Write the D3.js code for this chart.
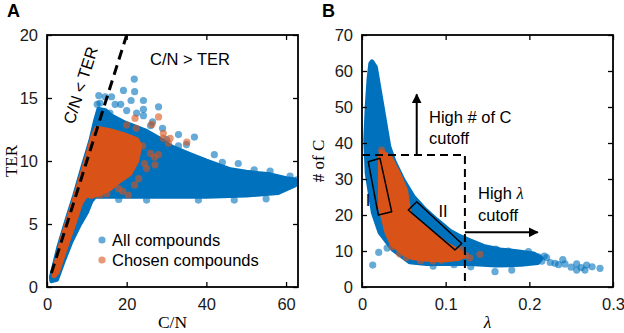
<!DOCTYPE html>
<html>
<head>
<meta charset="utf-8">
<script src="https://cdn.jsdelivr.net/npm/d3@7"></script>
<style>
  body { margin: 0; background: #fff; }
  svg { font-family: "Liberation Sans", Arial, sans-serif; }
</style>
</head>
<body>
<div id="chart"></div>
<script>
// ---- panel A data (C/N, TER) ----
const ticksAx = [0, 20, 40, 60];
const ticksAy = [0, 5, 10, 15, 20];
const allHullA = [[1.2,0.5],[2.4,0.6],[4,2],[6,3.6],[8.2,5],[10,6],[11,6.8],[12,7.2],[20,7.2],[30,7.2],[40,7.2],[50,7.3],[58,7.5],[62.2,8.1],[62.2,8.5],[60,8.6],[56,8.9],[50,9.1],[46,9.3],[40,10],[36,10.5],[31.3,11.1],[28,11.8],[24.6,12.4],[19.6,13],[16,13.6],[14.6,14],[13,14.1],[12.2,13.2],[11,11.6],[9,9.5],[7,7.3],[5,5.3],[3,3.2],[1.6,1.4],[1.1,0.8]];
const chosenHullA = [[1.8,0.9],[2.6,1.2],[4.5,3],[6.5,4.8],[8.5,6.7],[10,7.4],[11,7.2],[13,7.4],[15.8,7.8],[18,8.4],[20.8,9],[22.5,10],[23.3,11.2],[22.5,11.7],[19.2,12.1],[15.8,12.4],[12.5,12.6],[11.6,12],[10,10.2],[8,8.1],[6,6],[4,4],[2.6,2.2],[1.8,1.3]];
const allDotsA = [[21.9,16.5],[19.2,15.6],[22,15.5],[16.2,15.1],[14.6,15.1],[17.1,14.5],[21.1,14.8],[24.2,14.8],[24.2,14.1],[24.2,13.6],[28,14.3],[29,12.6],[33,12.1],[37,11.9],[20,14],[15.8,13.8],[13.3,14.6],[13,15.2],[12.6,14.5],[18.5,14.5],[26,12.8],[30,11.7],[35,11.3],[42,10.5],[48,9.8],[52,9.3],[56,9.2],[61,8.8],[62.7,8.5],[59,8.4],[47,6.9],[38,6.9],[25,6.9],[18,6.95],[55,7.0],[58,7.7],[33,11.2],[44,9.9],[22.5,13.8],[26.5,13.1]];
const chosenDotsA = [[22.1,13.4],[28,13.5],[26.3,12.9],[29.2,12.2],[29.2,11.8],[35.1,11.5],[30.9,11.8],[20,12.85],[22.4,12.6],[24,11.2],[26,10.6],[24.5,9.8],[23,8.6],[25,9.4],[13.3,7.3],[15,7.4],[18,7.8],[20.4,7.3],[14,8.3],[17,8.6],[27.1,9.7],[28,10.5],[30.5,11.4],[27,10.3],[19,7.6],[22,8.1]];

// ---- panel B data (lambda, # of C) ----
const ticksBx = [0, 0.1, 0.2, 0.3];
const ticksBy = [0, 10, 20, 30, 40, 50, 60, 70];
const allHullB = [[0.012,62.5],[0.016,61],[0.024,50],[0.032,39],[0.038,35],[0.049,29.7],[0.061,25.1],[0.075,21.5],[0.089,18.6],[0.105,15.5],[0.117,14],[0.129,12.8],[0.145,11.3],[0.165,10.3],[0.185,9.8],[0.205,9.2],[0.214,8],[0.21,6.8],[0.19,6.3],[0.16,6.1],[0.13,6.5],[0.1,6.6],[0.077,6.5],[0.057,7],[0.037,10.5],[0.0215,15.2],[0.0135,20.7],[0.0062,31.6],[0.0045,40.8],[0.0062,50],[0.0085,58],[0.0105,62]];
const chosenHullB = [[0.0235,37.5],[0.03,36.5],[0.0335,36],[0.044,31.2],[0.052,26.9],[0.0555,21.4],[0.058,19.6],[0.1,12],[0.112,10.4],[0.118,9.5],[0.121,8.6],[0.115,7.9],[0.1,7.6],[0.077,7.7],[0.06,8.2],[0.049,9.6],[0.036,12],[0.03,15],[0.022,22.3],[0.022,30],[0.022,36]];
const allDotsB = [[0.0128,6.1],[0.141,11.3],[0.16,10.5],[0.175,10],[0.199,9.8],[0.195,8.4],[0.2108,8.4],[0.2207,8.2],[0.2307,6.6],[0.2426,6.4],[0.2566,6.4],[0.2685,6.1],[0.2845,5.2],[0.2665,4.7],[0.2566,4.7],[0.159,4.25],[0.179,4.7],[0.13,5.6],[0.215,7.2],[0.225,6.8],[0.235,6.2],[0.275,5.6],[0.25,5.5],[0.02,9.6],[0.03,10.8],[0.11,6.2],[0.085,5.8],[0.218,8.6],[0.24,7.6],[0.262,5.4]];
const chosenDotsB = [[0.0235,38],[0.0235,23.2],[0.141,9.1],[0.129,8.1],[0.119,10.3],[0.053,8.2],[0.105,8.2],[0.085,7.2],[0.07,7.3],[0.045,9.2],[0.036,11.2],[0.095,7.4],[0.112,9.6],[0.124,8.8]];
const boxI = [[0.0075,34.8],[0.0215,35.75],[0.0355,20.9],[0.0195,20]];
const boxII = [[0.0553,21.4],[0.0654,23.7],[0.1192,12.1],[0.1111,10.3]];
const cutC = 36.7, cutLambda = 0.123;

const blue = '#0072BD', orange = '#D95319';
const W = 624, H = 333, R = 3.6;

const svg = d3.select('#chart').append('svg').attr('width', W).attr('height', H);

function panel(o) {
  const g = svg.append('g');
  const x = d3.scaleLinear().domain(o.xDomain).range([o.left, o.right]);
  const y = d3.scaleLinear().domain(o.yDomain).range([o.bottom, o.top]);
  const line = d3.line().x(d => x(d[0])).y(d => y(d[1])).curve(d3.curveLinearClosed);

  const clip = 'clip' + o.name;
  svg.append('clipPath').attr('id', clip).append('rect')
    .attr('x', o.left).attr('y', o.top).attr('width', o.right - o.left).attr('height', o.bottom - o.top);
  const plot = g.append('g').attr('clip-path', `url(#${clip})`);

  const cloud = (hull, dots, color) => {
    plot.append('path').attr('d', line(hull)).attr('fill', color)
      .attr('stroke', color).attr('stroke-width', 5).attr('stroke-linejoin', 'round');
    plot.selectAll(null).data(dots).enter().append('circle')
      .attr('cx', d => x(d[0])).attr('cy', d => y(d[1])).attr('r', R)
      .attr('fill', color).attr('fill-opacity', 0.6);
  };
  cloud(o.allHull, o.allDots, blue);
  cloud(o.chosenHull, o.chosenDots, orange);
  if (o.extra) o.extra(plot, x, y, line);

  // MATLAB style box with inward ticks
  const t = 5;
  g.append('g').attr('transform', `translate(0,${o.bottom})`)
    .call(d3.axisBottom(x).tickValues(o.xTicks).tickSize(-t).tickPadding(t + 6).tickFormat(o.xFmt || d3.format('')));
  g.append('g').attr('transform', `translate(0,${o.top})`)
    .call(d3.axisTop(x).tickValues(o.xTicks).tickSize(-t).tickFormat(''));
  g.append('g').attr('transform', `translate(${o.left},0)`)
    .call(d3.axisLeft(y).tickValues(o.yTicks).tickSize(-t).tickPadding(t + 4));
  g.append('g').attr('transform', `translate(${o.right},0)`)
    .call(d3.axisRight(y).tickValues(o.yTicks).tickSize(-t).tickFormat(''));
  g.selectAll('.domain').remove();
  g.selectAll('.tick line').attr('stroke', '#000').attr('stroke-width', 1.3);
  g.selectAll('.tick text').attr('font-size', 16.5).attr('font-family', '"Liberation Sans", Arial, sans-serif').attr('fill', '#1a1a1a');
  g.append('rect').attr('x', o.left).attr('y', o.top)
    .attr('width', o.right - o.left).attr('height', o.bottom - o.top)
    .attr('fill', 'none').attr('stroke', '#000').attr('stroke-width', 1.8);

  g.append('text').attr('x', o.left - 40).attr('y', 17).attr('font-weight', 'bold')
    .attr('font-size', 18).text(o.name);
  g.append('text').attr('x', (o.left + o.right) / 2).attr('y', 328)
    .attr('text-anchor', 'middle').attr('font-family', '"Liberation Serif", serif')
    .attr('font-style', o.xItalic ? 'italic' : 'normal')
    .attr('font-size', 17.5).text(o.xLabel);
  g.append('text').attr('transform', `translate(${o.yLabelX},${(o.top + o.bottom) / 2}) rotate(-90)`)
    .attr('text-anchor', 'middle').attr('font-family', '"Liberation Serif", serif')
    .attr('font-size', 17).text(o.yLabel);
  return { g, x, y };
}

// ---- panel A ----
const A = panel({
  name: 'A', left: 47, right: 298, top: 35, bottom: 287,
  xDomain: [0, 63], yDomain: [0, 20], xTicks: ticksAx, yTicks: ticksAy,
  allHull: allHullA, allDots: allDotsA, chosenHull: chosenHullA, chosenDots: chosenDotsA,
  xLabel: 'C/N', yLabel: 'TER', yLabelX: 17,
  extra: (plot, x, y) => {
    plot.append('line').attr('x1', x(1.1)).attr('y1', y(1.1)).attr('x2', x(20.5)).attr('y2', y(20.5))
      .attr('stroke', '#000').attr('stroke-width', 3).attr('stroke-dasharray', '10,6');
  }
});
A.g.append('text').attr('x', 190).attr('y', 65).attr('text-anchor', 'middle')
  .attr('font-size', 16.5).text('C/N > TER');
A.g.append('text').attr('transform', 'translate(86,87) rotate(-72.4)')
  .attr('text-anchor', 'middle').attr('font-size', 16.5).text('C/N < TER');
[['All compounds', blue, 240], ['Chosen compounds', orange, 260]].forEach(([lab, c, yy]) => {
  A.g.append('circle').attr('cx', 102).attr('cy', yy).attr('r', R).attr('fill', c).attr('fill-opacity', 0.6);
  A.g.append('text').attr('x', 112).attr('y', yy + 6).attr('font-size', 16.5).text(lab);
});

// ---- panel B ----
const B = panel({
  name: 'B', left: 362, right: 613, top: 35, bottom: 287,
  xDomain: [0, 0.3], yDomain: [0, 70], xTicks: ticksBx, yTicks: ticksBy,
  allHull: allHullB, allDots: allDotsB, chosenHull: chosenHullB, chosenDots: chosenDotsB,
  xLabel: 'λ', xItalic: true, yLabel: '# of C', yLabelX: 324,
  extra: (plot, x, y, line) => {
    [boxI, boxII].forEach(b => plot.append('path').attr('d', line(b)).attr('fill', 'none')
      .attr('stroke', '#000').attr('stroke-width', 1.5).attr('stroke-linejoin', 'round'));
    plot.append('path')
      .attr('d', `M${x(0)},${y(cutC)}H${x(cutLambda)}V${y(0)}`)
      .attr('fill', 'none').attr('stroke', '#000').attr('stroke-width', 2).attr('stroke-dasharray', '8,5');
  }
});
const bx = B.x, by = B.y;
svg.append('defs').append('marker').attr('id', 'arr').attr('viewBox', '0 0 10 10')
  .attr('refX', 9).attr('refY', 5).attr('markerWidth', 5).attr('markerHeight', 5)
  .attr('markerUnits', 'strokeWidth').attr('orient', 'auto')
  .append('path').attr('d', 'M0,0L10,5L0,10z').attr('fill', '#000');
B.g.append('line').attr('x1', bx(0.0654)).attr('y1', by(cutC)).attr('x2', bx(0.0654)).attr('y2', by(53.5))
  .attr('stroke', '#000').attr('stroke-width', 2).attr('marker-end', 'url(#arr)');
B.g.append('line').attr('x1', bx(cutLambda)).attr('y1', by(15.2)).attr('x2', bx(0.21)).attr('y2', by(15.2))
  .attr('stroke', '#000').attr('stroke-width', 2).attr('marker-end', 'url(#arr)');
B.g.append('text').attr('x', 429).attr('y', 123).attr('font-size', 16.5).text('High # of C');
B.g.append('text').attr('x', 429).attr('y', 144).attr('font-size', 16.5).text('cutoff');
B.g.append('text').attr('x', 478).attr('y', 199).attr('font-size', 16.5)
  .text('High ').append('tspan').attr('font-family', '"Liberation Serif", serif').attr('font-style', 'italic').text('λ');
B.g.append('text').attr('x', 478).attr('y', 221).attr('font-size', 16.5).text('cutoff');
B.g.append('text').attr('x', 368).attr('y', 206).attr('font-size', 16.5).attr('text-anchor', 'middle').text('I');
B.g.append('text').attr('x', 443).attr('y', 217).attr('font-size', 16.5).attr('text-anchor', 'middle').text('II');
</script>
</body>
</html>
